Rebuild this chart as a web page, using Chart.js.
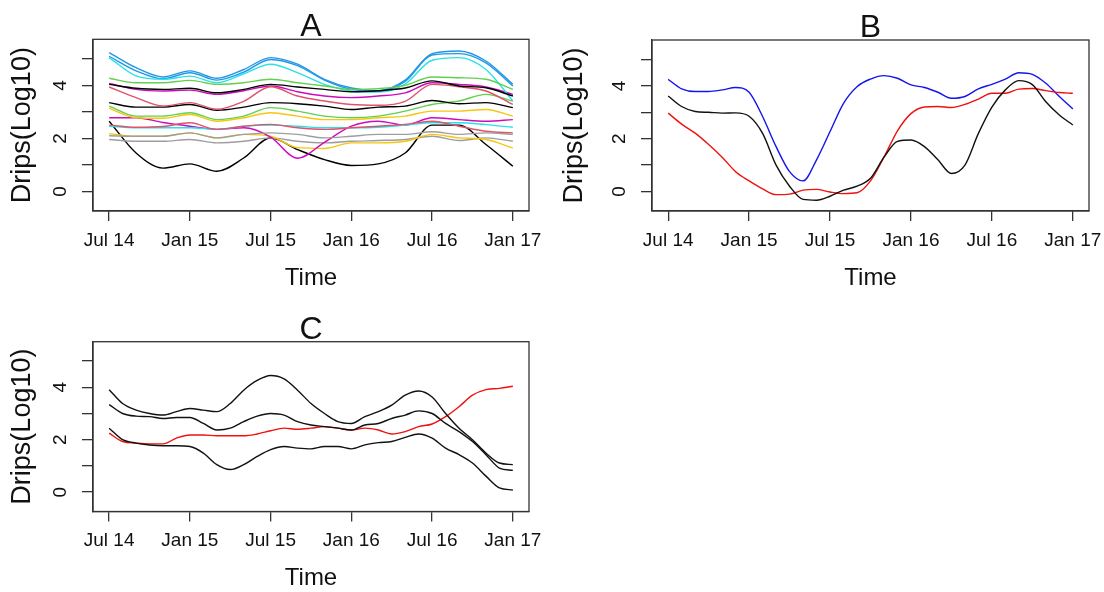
<!DOCTYPE html>
<html>
<head>
<meta charset="utf-8">
<script src="https://cdn.jsdelivr.net/npm/chart.js@4.4.0/dist/chart.umd.min.js"></script>
<style>
  body { margin: 0; background: #fff; width: 1104px; height: 592px; overflow: hidden; position: relative; }
  canvas { position: absolute; }
</style>
</head>
<body>
<canvas id="chart_A" width="552" height="296" style="left:0px;top:0px"></canvas>
<canvas id="chart_B" width="552" height="296" style="left:552px;top:0px"></canvas>
<canvas id="chart_C" width="552" height="296" style="left:0px;top:300px"></canvas>
<script>
// x axis: months since Jul 2014
const tickMonths = [0, 6, 12, 18, 24, 30];
const tickLabels = ['Jul 14', 'Jan 15', 'Jul 15', 'Jan 16', 'Jul 16', 'Jan 17'];
const yTickValues = [0, 1, 2, 3, 4, 5];

// panel A, sampled every two months
const monthsA = [0, 2, 4, 6, 8, 10, 12, 14, 16, 18, 20, 22, 24, 26, 28, 30];
const aBlack1   = [4.04, 3.89, 3.85, 3.89, 3.72, 3.85, 4.04, 3.94, 3.85, 3.76, 3.80, 3.90, 4.17, 3.98, 3.91, 3.60];
const aSalmon1  = [3.94, 3.54, 3.22, 3.35, 3.10, 3.40, 3.95, 3.60, 3.41, 3.28, 3.25, 3.40, 4.04, 3.95, 3.79, 3.28];
const aGreen1   = [4.27, 4.10, 4.10, 4.19, 4.04, 4.10, 4.23, 4.10, 3.98, 3.85, 3.88, 4.00, 4.32, 4.29, 4.23, 3.85];
const aBlue1    = [5.24, 4.67, 4.32, 4.55, 4.27, 4.60, 5.05, 4.80, 4.23, 3.90, 3.80, 4.20, 5.20, 5.30, 4.92, 4.04];
const aCyan1    = [5.05, 4.36, 4.23, 4.35, 4.10, 4.44, 4.80, 4.48, 4.04, 3.79, 3.75, 4.05, 4.95, 5.05, 4.60, 3.41];
const aMagenta1 = [4.07, 3.85, 3.79, 3.82, 3.66, 3.80, 3.98, 3.76, 3.60, 3.54, 3.60, 3.72, 4.10, 4.04, 3.94, 3.66];
const aYellow1  = [3.13, 2.78, 2.76, 2.90, 2.65, 2.78, 2.97, 2.84, 2.71, 2.71, 2.78, 2.84, 3.03, 3.03, 3.09, 2.84];
const aGray1    = [2.10, 2.08, 2.08, 2.21, 2.02, 2.15, 2.21, 2.15, 2.02, 2.08, 2.15, 2.15, 2.25, 2.15, 2.21, 2.15];
const aBlack2   = [3.35, 3.18, 3.18, 3.28, 3.06, 3.18, 3.35, 3.31, 3.22, 3.09, 3.18, 3.22, 3.43, 3.31, 3.35, 3.16];
const aSalmon2  = [2.50, 2.42, 2.45, 2.59, 2.34, 2.46, 2.53, 2.40, 2.34, 2.40, 2.46, 2.53, 2.65, 2.46, 2.27, 2.21];
const aGreen2   = [3.22, 2.84, 2.84, 2.97, 2.71, 2.84, 3.16, 3.03, 2.84, 2.78, 2.84, 3.03, 3.28, 3.41, 3.66, 3.41];
const aBlue2    = [5.10, 4.55, 4.25, 4.48, 4.20, 4.50, 4.98, 4.75, 4.20, 3.85, 3.78, 4.15, 5.15, 5.20, 4.85, 3.98];
const aCyan2    = [2.46, 2.40, 2.40, 2.40, 2.34, 2.46, 2.50, 2.46, 2.40, 2.40, 2.42, 2.50, 2.59, 2.59, 2.52, 2.42];
const aMagenta2 = [2.78, 2.78, 2.60, 2.46, 2.34, 2.40, 2.05, 1.25, 1.85, 2.46, 2.65, 2.50, 2.78, 2.71, 2.65, 2.71];
const aYellow2  = [2.18, 2.08, 2.08, 2.21, 2.02, 2.15, 2.08, 1.65, 1.62, 1.83, 1.83, 1.89, 2.15, 2.02, 1.96, 1.64];
const aGray2    = [1.96, 1.89, 1.89, 1.96, 1.83, 1.89, 2.02, 1.89, 1.83, 1.89, 1.92, 1.96, 2.08, 1.92, 2.02, 1.89];
const aBlack3   = [2.65, 1.45, 0.88, 1.04, 0.76, 1.26, 2.02, 1.58, 1.20, 0.98, 1.04, 1.45, 2.50, 2.50, 1.77, 0.95];

// panels B and C, sampled monthly
const monthsBC = [0, 1, 2, 3, 4, 5, 6, 7, 8, 9, 10, 11, 12, 13, 14, 15, 16, 17, 18, 19, 20, 21, 22, 23, 24, 25, 26, 27, 28, 29, 30];
const bBlack = [3.62, 3.22, 3.03, 3.00, 2.97, 2.98, 2.85, 2.20, 1.00, 0.20, -0.30, -0.33, -0.18, 0.05, 0.20, 0.50, 1.30, 1.90, 1.95, 1.70, 1.20, 0.68, 1.00, 2.20, 3.20, 3.85, 4.20, 4.05, 3.40, 2.90, 2.52];
const bRed   = [2.97, 2.55, 2.21, 1.78, 1.30, 0.75, 0.40, 0.10, -0.12, -0.10, 0.05, 0.08, -0.02, -0.08, -0.05, 0.40, 1.30, 2.30, 2.95, 3.20, 3.22, 3.18, 3.30, 3.50, 3.72, 3.72, 3.88, 3.90, 3.82, 3.75, 3.72];
const bBlue  = [4.25, 3.89, 3.79, 3.79, 3.85, 3.94, 3.76, 2.84, 1.70, 0.75, 0.40, 1.20, 2.27, 3.34, 3.97, 4.26, 4.39, 4.29, 4.04, 3.94, 3.76, 3.53, 3.60, 3.89, 4.06, 4.26, 4.50, 4.44, 4.10, 3.60, 3.13];

const cBlack1 = [3.91, 3.38, 3.13, 3.00, 2.94, 3.07, 3.19, 3.13, 3.07, 3.38, 3.89, 4.26, 4.45, 4.32, 3.89, 3.38, 3.00, 2.69, 2.62, 2.88, 3.07, 3.32, 3.70, 3.86, 3.63, 3.00, 2.44, 2.00, 1.49, 1.11, 1.05];
const cBlack2 = [3.34, 3.00, 2.90, 2.88, 2.81, 2.85, 2.85, 2.62, 2.37, 2.44, 2.69, 2.90, 3.00, 2.94, 2.69, 2.56, 2.50, 2.44, 2.37, 2.56, 2.62, 2.81, 2.94, 3.10, 3.00, 2.62, 2.31, 1.93, 1.43, 0.92, 0.83];
const cBlack3 = [2.44, 2.00, 1.87, 1.80, 1.77, 1.77, 1.74, 1.49, 1.05, 0.86, 1.05, 1.36, 1.62, 1.74, 1.68, 1.65, 1.74, 1.74, 1.65, 1.80, 1.89, 1.93, 2.09, 2.22, 2.06, 1.68, 1.43, 1.11, 0.61, 0.16, 0.08];
const cRed    = [2.25, 1.93, 1.87, 1.84, 1.84, 2.06, 2.18, 2.18, 2.15, 2.15, 2.15, 2.22, 2.34, 2.44, 2.40, 2.44, 2.50, 2.44, 2.37, 2.44, 2.37, 2.22, 2.31, 2.50, 2.60, 2.88, 3.26, 3.70, 3.91, 3.96, 4.04];

const textColor = '#111';
const axisColor = '#333';
const CANVAS_H = 296;

// frame around the plot region, like R's box()
const boxPlugin = {
    id: 'box',
    afterDraw(chart) {
        const a = chart.chartArea;
        const ctx = chart.ctx;
        ctx.save();
        ctx.strokeStyle = axisColor;
        ctx.lineWidth = 1.3;
        ctx.strokeRect(a.left, a.top, a.right - a.left, a.bottom - a.top);
        ctx.restore();
    }
};

function drawPanel(canvasId, titleText, months, series, box) {
    let ctx = document.getElementById(canvasId).getContext('2d');
    return new Chart(ctx, {
        type: 'line',
        data: {
            datasets: series.map(s => ({
                data: months.map((m, i) => ({x: m, y: s[0][i]})),
                borderColor: s[1],
                borderWidth: 1.4,
                pointRadius: 0,
                fill: false,
                cubicInterpolationMode: 'monotone'
            }))
        },
        plugins: [boxPlugin],
        options: {
            responsive: false,
            animation: false,
            layout: { padding: { left: 0, top: 0, bottom: 0, right: 552 - box.right } },
            plugins: {
                legend: { display: false },
                tooltip: { enabled: false },
                title: {
                    display: true,
                    text: titleText,
                    fullSize: false,
                    color: textColor,
                    font: { family: 'Liberation Sans, Arial, sans-serif', size: 32, weight: 'normal', lineHeight: 0.625 },
                    padding: { top: box.top - 22, bottom: 2 }
                }
            },
            scales: {
                x: {
                    type: 'linear',
                    min: -1.2,
                    max: 31.2,
                    afterBuildTicks: s => { s.ticks = tickMonths.map(v => ({value: v})); },
                    afterFit: s => { s.height = CANVAS_H - box.bottom; s.paddingLeft = 0; s.paddingRight = 0; },
                    ticks: {
                        autoSkip: false, minRotation: 0, maxRotation: 0, padding: 8,
                        color: textColor,
                        font: { family: 'Liberation Sans, Arial, sans-serif', size: 19 },
                        callback: function(val) {
                            const i = tickMonths.indexOf(val);
                            return i >= 0 ? tickLabels[i] : '';
                        }
                    },
                    grid: { drawOnChartArea: false, drawTicks: true, tickLength: 10, color: axisColor, lineWidth: 1.3 },
                    border: { color: axisColor, width: 1.3 },
                    title: {
                        display: true, text: 'Time', color: textColor,
                        font: { family: 'Liberation Sans, Arial, sans-serif', size: 24 },
                        padding: { top: 0, bottom: 3 }
                    }
                },
                y: {
                    type: 'linear',
                    min: -0.74,
                    max: 5.74,
                    afterBuildTicks: s => { s.ticks = yTickValues.map(v => ({value: v})); },
                    afterFit: s => { s.width = box.left; s.paddingTop = 0; s.paddingBottom = 0; },
                    ticks: {
                        minRotation: 90, maxRotation: 90, crossAlign: 'center', padding: 16,
                        color: textColor,
                        font: { family: 'Liberation Sans, Arial, sans-serif', size: 19 },
                        callback: function(val) {
                            return val % 2 === 0 ? String(val) : '';
                        }
                    },
                    grid: { drawOnChartArea: false, drawTicks: true, tickLength: 11, color: axisColor, lineWidth: 1.3 },
                    border: { color: axisColor, width: 1.3 },
                    title: {
                        display: true, text: 'Drips(Log10)', color: textColor,
                        font: { family: 'Liberation Sans, Arial, sans-serif', size: 27 },
                        padding: { top: 6, bottom: 0 }
                    }
                }
            }
        }
    });
}

const pal = ['#000000', '#DF536B', '#61D04F', '#2297E6', '#28E2E5', '#CD0BBC', '#F5C710', '#9E9E9E'];

let chartA = drawPanel('chart_A', 'A', monthsA, [
    [aBlack1, pal[0]], [aSalmon1, pal[1]], [aGreen1, pal[2]], [aBlue1, pal[3]],
    [aCyan1, pal[4]], [aMagenta1, pal[5]], [aYellow1, pal[6]], [aGray1, pal[7]],
    [aBlack2, pal[0]], [aSalmon2, pal[1]], [aGreen2, pal[2]], [aBlue2, pal[3]],
    [aCyan2, pal[4]], [aMagenta2, pal[5]], [aYellow2, pal[6]], [aGray2, pal[7]],
    [aBlack3, pal[0]]
], { left: 93, top: 39.3, right: 529, bottom: 211 });

let chartB = drawPanel('chart_B', 'B', monthsBC, [
    [bBlack, '#111111'], [bRed, '#f01010'], [bBlue, '#1414ee']
], { left: 100, top: 40, right: 537, bottom: 211 });

let chartC = drawPanel('chart_C', 'C', monthsBC, [
    [cBlack1, '#111111'], [cBlack2, '#111111'], [cBlack3, '#111111'], [cRed, '#f01010']
], { left: 93, top: 41.7, right: 529, bottom: 211.5 });
</script>
</body>
</html>
